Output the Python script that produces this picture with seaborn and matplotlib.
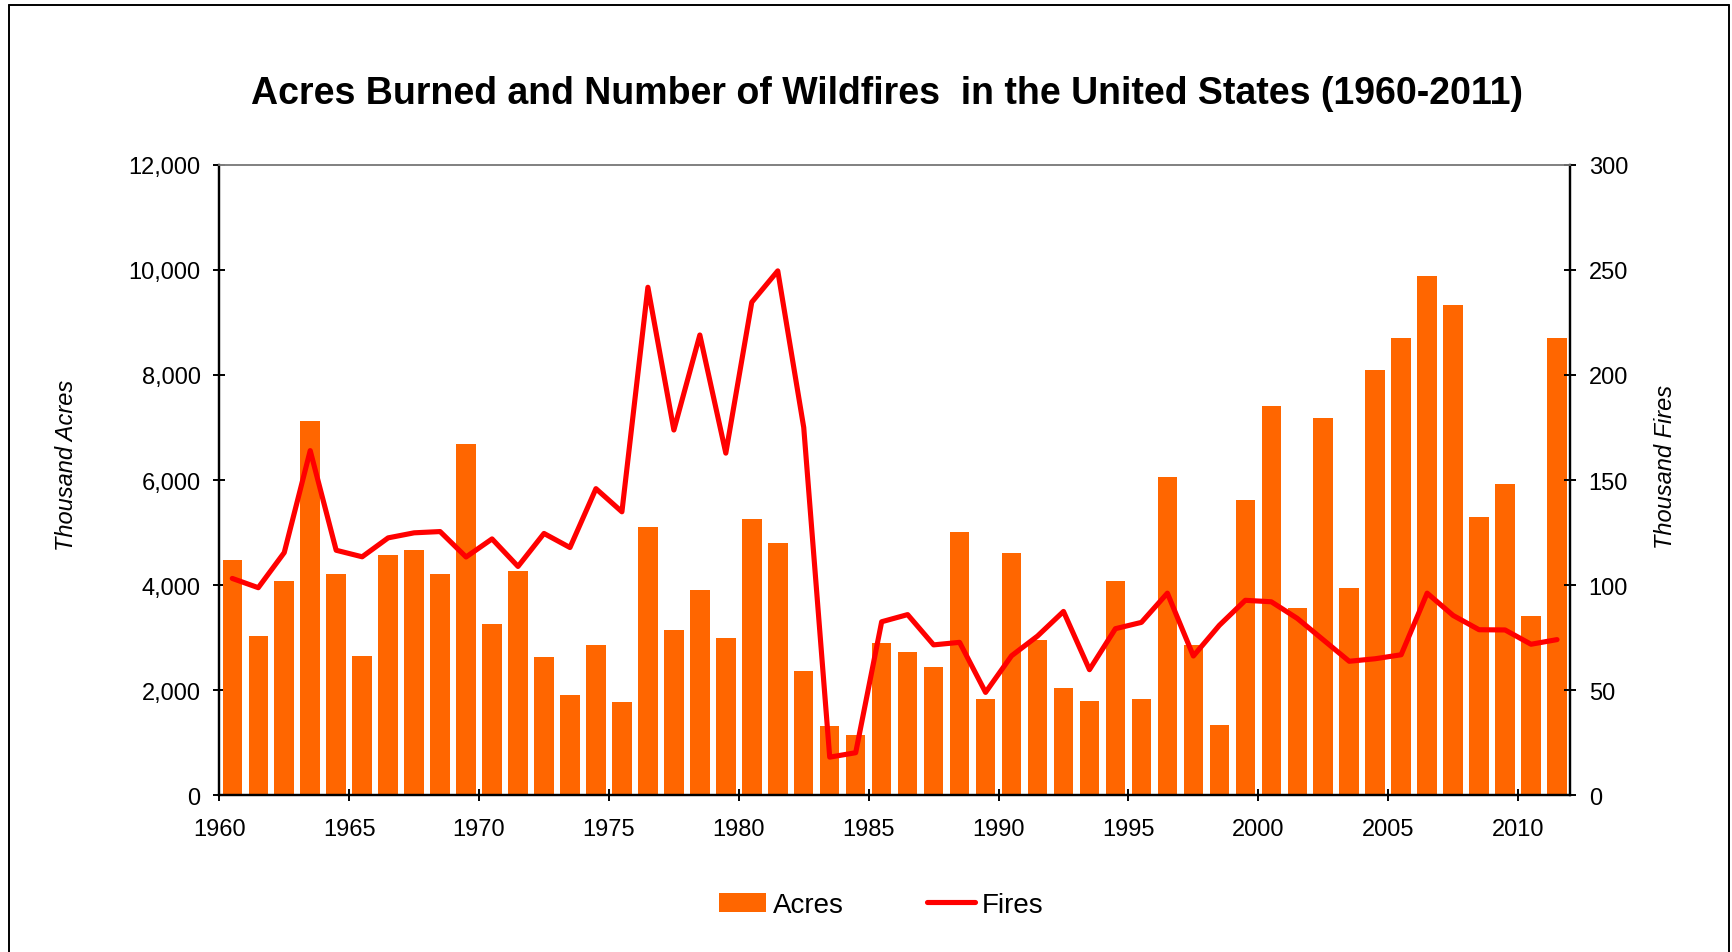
import numpy as np
import pandas as pd
import matplotlib
matplotlib.use('Agg')
import matplotlib.pyplot as plt
import seaborn as sns
from matplotlib.lines import Line2D
from matplotlib.patches import Patch

# data
years = list(range(1960, 2012))
acres = [4480, 3040, 4075, 7130, 4210, 2645, 4575, 4660, 4220, 6685,
         3270, 4265, 2640, 1915, 2870, 1785, 5110, 3140, 3900, 2990,
         5250, 4800, 2375, 1325, 1145, 2900, 2720, 2450, 5010, 1825,
         4620, 2950, 2050, 1790, 4075, 1830, 6065, 2860, 1330, 5615,
         7400, 3575, 7185, 3950, 8090, 8700, 9875, 9335, 5290, 5920,
         3410, 8710]
fires = [103.2, 98.8, 115.5, 164.0, 116.6, 113.5, 122.5, 124.9, 125.5, 113.4,
         122.0, 108.9, 124.6, 117.9, 145.9, 134.9, 241.7, 173.8, 219.0, 162.8,
         234.6, 249.5, 175.0, 18.2, 20.3, 82.6, 86.0, 71.6, 72.8, 49.0,
         66.4, 75.8, 87.5, 59.8, 79.3, 82.3, 96.2, 66.3, 80.9, 92.8,
         92.1, 84.2, 74.0, 63.8, 65.0, 66.9, 96.2, 85.6, 78.8, 78.7,
         71.9, 74.1]
acre_ticks = [0, 2000, 4000, 6000, 8000, 10000, 12000]
fire_ticks = [0, 50, 100, 150, 200, 250, 300]
year_ticks = [1960, 1965, 1970, 1975, 1980, 1985, 1990, 1995, 2000, 2005, 2010]

df = pd.DataFrame({'year': years, 'acres': acres, 'fires': fires})
df['pos'] = df['year'] + 0.5  # bars sit between the year ticks

sns.set_style('white')
plt.rcParams['font.family'] = ['Liberation Sans', 'DejaVu Sans']
for k in ('text.color', 'axes.labelcolor', 'xtick.color', 'ytick.color'):
    plt.rcParams[k] = 'black'

W, H = 1732, 953
fig = plt.figure(figsize=(W / 100, H / 100), dpi=100)
ax = fig.add_axes([219.3 / W, 1 - 796.4 / H, (1570 - 219.3) / W, (796.4 - 165.7) / H])

bar_color = '#FF6600'
line_color = '#FF0000'

sns.barplot(data=df, x='pos', y='acres', native_scale=True, width=0.75,
            color=bar_color, saturation=1, linewidth=0, ax=ax)
ax.set_xlim(1960, 2012)
ax.set_ylim(0, 12000)
ax.set_yticks(acre_ticks)
ax.set_yticklabels([f'{v:,}' for v in acre_ticks])
ax.set_xticks(year_ticks)
ax.set_xticklabels([str(y) for y in year_ticks])
ax.set_xlabel('')
ax.set_ylabel('Thousand Acres', fontsize=17, style='italic', va='center')
ax.yaxis.set_label_coords(-0.113, 0.525)

ax2 = ax.twinx()
sns.lineplot(data=df, x='pos', y='fires', color=line_color, linewidth=3.7,
             ax=ax2, legend=False)
ax2.set_xlim(1960, 2012)
ax2.set_ylim(0, 300)
ax2.set_yticks(fire_ticks)
ax2.set_yticklabels([str(v) for v in fire_ticks])
ax2.set_xlabel('')
ax2.set_ylabel('Thousand Fires', fontsize=17, style='italic', va='center')
ax2.yaxis.set_label_coords(1.071, 0.522)

for a in (ax, ax2):
    for s in ('left', 'bottom', 'right'):
        a.spines[s].set_color('black')
        a.spines[s].set_linewidth(1.6)
    a.spines['top'].set_color('#808080')
    a.spines['top'].set_linewidth(1.2)
    a.tick_params(axis='both', which='major', labelsize=17, direction='inout',
                  length=9, width=1.4, color='black', pad=9)
ax.tick_params(axis='y', left=True, right=False)
ax.tick_params(axis='x', bottom=True, pad=12)
ax2.tick_params(axis='y', right=True, left=False, pad=9)

fig.text(887 / W, 1 - 94 / H, 'Acres Burned and Number of Wildfires  in the United States (1960-2011)',
         ha='center', va='center', fontsize=27, fontweight='bold',
         family=['Liberation Sans Narrow', 'Liberation Sans', 'DejaVu Sans'])

handles = [Patch(facecolor=bar_color, edgecolor='none'),
           Line2D([0], [0], color=line_color, linewidth=3.7)]
fig.legend(handles, ['Acres', 'Fires'], loc='center', ncol=2, frameon=False,
           bbox_to_anchor=(881 / W, 1 - 906 / H), fontsize=20,
           handlelength=1.7, handletextpad=0.25, columnspacing=3.0)

# outer chart frame (bottom edge is cut off in the reference)
for xs, ys in (([9, 9], [5.5, H]), ([9, 1729], [5.5, 5.5]), ([1729, 1729], [5.5, H])):
    fig.add_artist(Line2D([x / W for x in xs], [1 - y / H for y in ys],
                          color='black', linewidth=1.4, transform=fig.transFigure))

fig.savefig('out.png', dpi=100, facecolor='white')
